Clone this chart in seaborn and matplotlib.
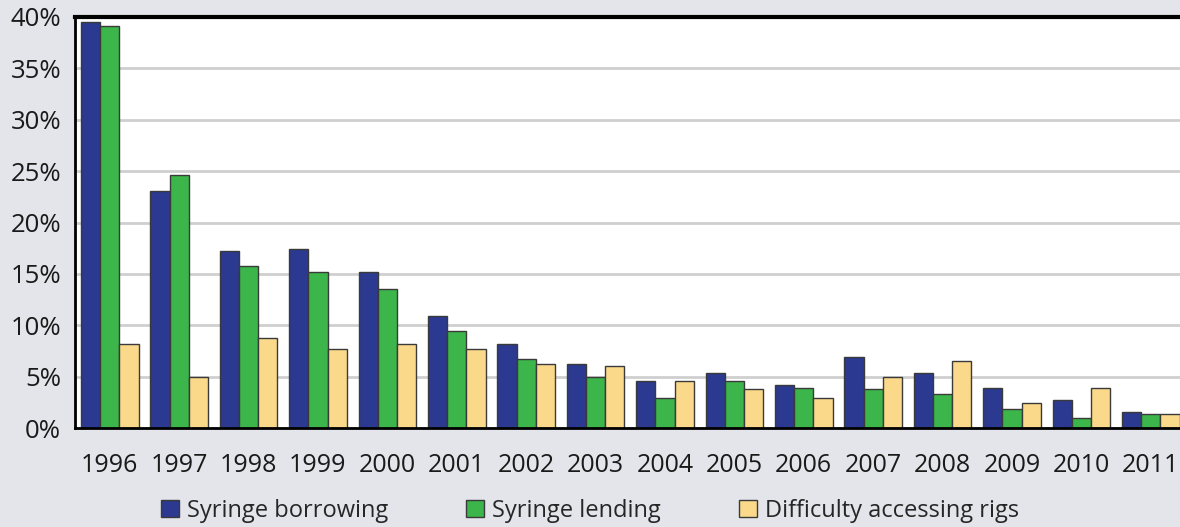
import pandas as pd
import seaborn as sns
import matplotlib.pyplot as plt
from matplotlib.ticker import FuncFormatter, FixedLocator

years = [str(y) for y in range(1996, 2012)]
borrowing = [39.5, 23.1, 17.25, 17.4, 15.15, 10.9, 8.15, 6.25, 4.6, 5.4, 4.15, 6.9, 5.4, 3.9, 2.7, 1.6]
lending = [39.15, 24.6, 15.8, 15.15, 13.5, 9.45, 6.7, 5.0, 2.9, 4.6, 3.9, 3.75, 3.3, 1.85, 1.0, 1.4]
difficulty = [8.15, 5.0, 8.8, 7.7, 8.15, 7.7, 6.25, 6.05, 4.6, 3.75, 2.9, 5.0, 6.5, 2.45, 3.9, 1.4]
series = ['Syringe borrowing', 'Syringe lending', 'Difficulty accessing rigs']
colors = ['#2b3990', '#3cb54a', '#fbd98a']

df = pd.DataFrame({
    'year': years * 3,
    'value': borrowing + lending + difficulty,
    'series': [series[0]] * 16 + [series[1]] * 16 + [series[2]] * 16,
})

sns.set_style('white')
plt.rcParams['font.family'] = ['Open Sans', 'DejaVu Sans']

bg = '#e4e5ea'
fig = plt.figure(figsize=(11.8, 5.27), dpi=100, facecolor=bg)
ax = fig.add_axes([75 / 1180, 1 - 428 / 527, 1 - 75 / 1180, (428 - 17) / 527])
ax.set_facecolor('white')

sns.barplot(data=df, x='year', y='value', hue='series', palette=colors,
            width=0.83, edgecolor='#3a3a3a', linewidth=1.0, saturation=1,
            ax=ax, legend=True)

ax.set_ylim(0, 40)
ax.set_xlim(-0.5, 15.42)
ax.set_yticks(range(0, 41, 5))
ax.yaxis.set_major_formatter(FuncFormatter(lambda v, p: f'{int(v)}%'))
ax.grid(axis='y', color='#cfcfcf', linewidth=2)
ax.set_axisbelow(True)
ax.set_xlabel('')
ax.set_ylabel('')

ax.tick_params(axis='y', length=0, labelsize=18.5, pad=10, colors='#1a1a1a')
ax.tick_params(axis='x', which='major', length=0, labelsize=18, pad=18, colors='#1a1a1a')
ax.xaxis.set_minor_locator(FixedLocator([i - 0.5 for i in range(17)]))
ax.tick_params(axis='x', which='minor', length=7, width=2, color='black', direction='out')

ax.spines['top'].set_linewidth(3)
for side in ['left', 'bottom']:
    ax.spines[side].set_linewidth(2)
for side in ['top', 'left', 'bottom']:
    ax.spines[side].set_color('black')
ax.spines['right'].set_visible(False)

handles, labels = ax.get_legend_handles_labels()
ax.get_legend().remove()
fig.legend(handles, labels, loc='center', bbox_to_anchor=(0.5, 1 - 511 / 527), ncol=3,
           frameon=False, fontsize=17, handlelength=0.75, handleheight=0.75,
           handletextpad=0.35, columnspacing=3.3)

fig.savefig('out.png', dpi=100, facecolor=bg)
